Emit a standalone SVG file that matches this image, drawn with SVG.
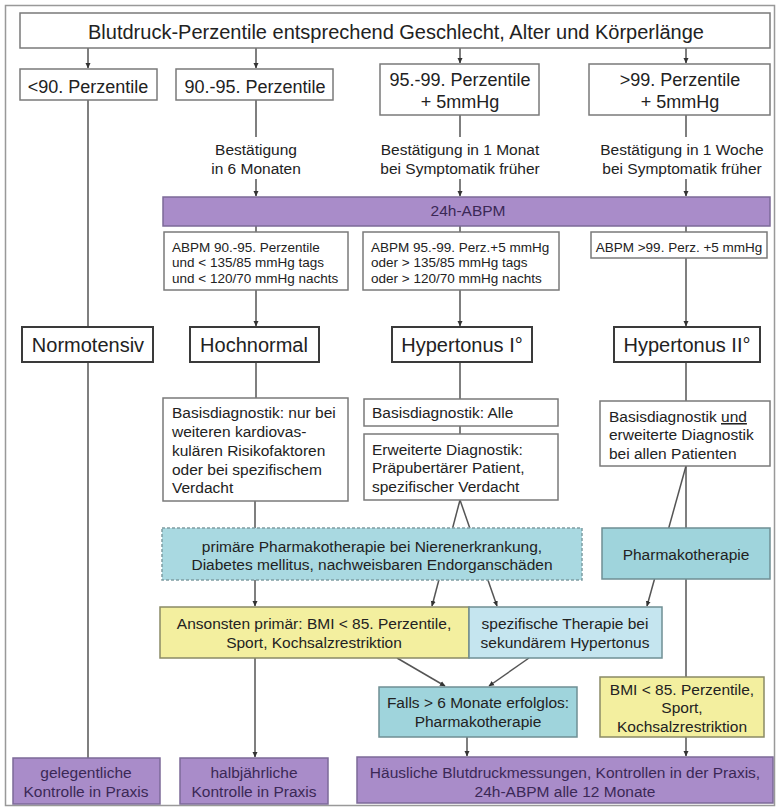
<svg xmlns="http://www.w3.org/2000/svg" width="777" height="811" viewBox="0 0 777 811">
<defs>
<marker id="ah" markerWidth="6" markerHeight="6" refX="5" refY="3" orient="auto" markerUnits="userSpaceOnUse">
<path d="M0,0.5 L5.5,3 L0,5.5 z" fill="#333"/>
</marker>
<style>
text{font-family:"Liberation Sans",Arial,sans-serif;fill:#222}
.b{fill:#fff;stroke:#7a7a7a;stroke-width:1.5}
.d{fill:#fff;stroke:#3a3a3a;stroke-width:2}
.pu{fill:#a98cc9;stroke:#7c6a98;stroke-width:1.5}
.te{fill:#9fd4dc;stroke:#6f8f94;stroke-width:1.5}
.dash{fill:#a9d9e1;stroke:#7f9da2;stroke-width:1.5;stroke-dasharray:3 2}
.ye{fill:#f3ef9f;stroke:#8a8a66;stroke-width:1.5}
.lb{fill:#c5e5ef;stroke:#6f8f94;stroke-width:1.5}
.c{text-anchor:middle}
.f20{font-size:20px}
.f18{font-size:18px}
.f15{font-size:15.5px}
.f13{font-size:13.5px}
.pt{fill:#3b2856}
#conn line,#conn path{stroke:#555;stroke-width:1.5;fill:none}
</style>
</defs>
<rect x="0" y="0" width="777" height="811" fill="#fff"/>
<rect x="5.5" y="5.5" width="769" height="800" fill="none" stroke="#999" stroke-width="1.5"/>

<g id="conn">
<line x1="88" y1="48" x2="88" y2="68" marker-end="url(#ah)"/>
<line x1="256" y1="48" x2="256" y2="68" marker-end="url(#ah)"/>
<line x1="460" y1="48" x2="460" y2="63" marker-end="url(#ah)"/>
<line x1="686" y1="48" x2="686" y2="63" marker-end="url(#ah)"/>
<line x1="88" y1="100" x2="88" y2="327"/>
<line x1="88" y1="362" x2="88" y2="758"/>
<line x1="256" y1="100" x2="256" y2="137"/>
<line x1="256" y1="179" x2="256" y2="196" marker-end="url(#ah)"/>
<line x1="460" y1="115" x2="460" y2="137"/>
<line x1="460" y1="179" x2="460" y2="196" marker-end="url(#ah)"/>
<line x1="686" y1="115" x2="686" y2="137"/>
<line x1="686" y1="179" x2="686" y2="196" marker-end="url(#ah)"/>
<line x1="256" y1="226" x2="256" y2="232"/>
<line x1="460" y1="226" x2="460" y2="232"/>
<line x1="686" y1="226" x2="686" y2="232"/>
<line x1="256" y1="290" x2="256" y2="326" marker-end="url(#ah)"/>
<line x1="460" y1="290" x2="460" y2="326" marker-end="url(#ah)"/>
<line x1="686" y1="258" x2="686" y2="326" marker-end="url(#ah)"/>
<line x1="256" y1="362" x2="256" y2="398"/>
<line x1="460" y1="362" x2="460" y2="399"/>
<line x1="460" y1="426" x2="460" y2="434"/>
<line x1="686" y1="362" x2="686" y2="401"/>
<line x1="255" y1="501" x2="255" y2="606" marker-end="url(#ah)"/>
<line x1="460" y1="500" x2="432" y2="606" marker-end="url(#ah)"/>
<line x1="460" y1="500" x2="497" y2="606" marker-end="url(#ah)"/>
<line x1="686" y1="466" x2="647" y2="606" marker-end="url(#ah)"/>
<line x1="686" y1="466" x2="686" y2="677"/>
<line x1="397" y1="658" x2="445" y2="686" marker-end="url(#ah)"/>
<line x1="529" y1="658" x2="489" y2="686" marker-end="url(#ah)"/>
<line x1="255" y1="658" x2="255" y2="757" marker-end="url(#ah)"/>
<line x1="467" y1="737" x2="467" y2="756" marker-end="url(#ah)"/>
<line x1="686" y1="737" x2="686" y2="756" marker-end="url(#ah)"/>
</g>

<g id="title">
<rect class="b" x="20" y="13" width="750" height="35"/>
<text class="c f20" x="396" y="39">Blutdruck-Perzentile entsprechend Geschlecht, Alter und Körperlänge</text>
</g>

<g id="p90">
<rect class="b" x="20" y="69" width="137" height="31"/>
<text class="c f18" x="88" y="93">&lt;90. Perzentile</text>
</g>
<g id="p9095">
<rect class="b" x="176" y="69" width="157" height="31"/>
<text class="c f18" x="255" y="93">90.-95. Perzentile</text>
</g>
<g id="p9599">
<rect class="b" x="380" y="64" width="159" height="51"/>
<text class="c f18" x="460" y="86">95.-99. Perzentile</text>
<text class="c f18" x="460" y="108">+ 5mmHg</text>
</g>
<g id="p99">
<rect class="b" x="589" y="64" width="181" height="51"/>
<text class="c f18" x="680" y="86">&gt;99. Perzentile</text>
<text class="c f18" x="680" y="108">+ 5mmHg</text>
</g>

<g id="conf1">
<text class="c f15" x="256" y="155">Bestätigung</text>
<text class="c f15" x="256" y="174">in 6 Monaten</text>
</g>
<g id="conf2">
<text class="c f15" x="460" y="155">Bestätigung in 1 Monat</text>
<text class="c f15" x="460" y="174">bei Symptomatik früher</text>
</g>
<g id="conf3">
<text class="c f15" x="682" y="155">Bestätigung in 1 Woche</text>
<text class="c f15" x="682" y="174">bei Symptomatik früher</text>
</g>

<g id="abpm">
<rect class="pu" x="163" y="197" width="607" height="29"/>
<text class="c f15 pt" x="468" y="216">24h-ABPM</text>
</g>

<g id="abpmA">
<rect class="b" x="164" y="232" width="184" height="58"/>
<text class="f13" x="172" y="252">ABPM 90.-95. Perzentile</text>
<text class="f13" x="172" y="267">und &lt; 135/85 mmHg tags</text>
<text class="f13" x="172" y="283">und &lt; 120/70 mmHg nachts</text>
</g>
<g id="abpmB">
<rect class="b" x="363" y="232" width="196" height="58"/>
<text class="f13" x="371" y="252">ABPM 95.-99. Perz.+5 mmHg</text>
<text class="f13" x="371" y="267">oder &gt; 135/85 mmHg tags</text>
<text class="f13" x="371" y="283">oder &gt; 120/70 mmHg nachts</text>
</g>
<g id="abpmC">
<rect class="b" x="591" y="232" width="176" height="26"/>
<text class="c f13" x="679" y="252">ABPM &gt;99. Perz. +5 mmHg</text>
</g>

<g id="normo">
<rect class="d" x="22" y="327" width="131" height="35"/>
<text class="c f20" x="88" y="352">Normotensiv</text>
</g>
<g id="hochnormal">
<rect class="d" x="190" y="327" width="129" height="35"/>
<text class="c f20" x="254" y="352">Hochnormal</text>
</g>
<g id="ht1">
<rect class="d" x="392" y="327" width="140" height="35"/>
<text class="c f20" x="462" y="352">Hypertonus I°</text>
</g>
<g id="ht2">
<rect class="d" x="614" y="327" width="146" height="35"/>
<text class="c f20" x="687" y="352">Hypertonus II°</text>
</g>

<g id="diagH">
<rect class="b" x="163" y="398" width="185" height="103"/>
<text class="f15" x="172" y="418">Basisdiagnostik: nur bei</text>
<text class="f15" x="172" y="437">weiteren kardiovas-</text>
<text class="f15" x="172" y="456">kulären Risikofaktoren</text>
<text class="f15" x="172" y="475">oder bei spezifischem</text>
<text class="f15" x="172" y="493">Verdacht</text>
</g>
<g id="diagI1">
<rect class="b" x="364" y="399" width="194" height="27"/>
<text class="f15" x="372" y="418">Basisdiagnostik: Alle</text>
</g>
<g id="diagI2">
<rect class="b" x="364" y="434" width="194" height="66"/>
<text class="f15" x="372" y="455">Erweiterte Diagnostik:</text>
<text class="f15" x="372" y="473">Präpubertärer Patient,</text>
<text class="f15" x="372" y="492">spezifischer Verdacht</text>
</g>
<g id="diagII">
<rect class="b" x="600" y="401" width="170" height="65"/>
<text class="f15" x="609" y="422">Basisdiagnostik <tspan text-decoration="underline">und</tspan></text>
<text class="f15" x="609" y="440">erweiterte Diagnostik</text>
<text class="f15" x="609" y="459">bei allen Patienten</text>
</g>

<g id="primPharma">
<rect class="dash" x="162" y="528" width="420" height="52"/>
<text class="c f15" x="372" y="552">primäre Pharmakotherapie bei Nierenerkrankung,</text>
<text class="c f15" x="372" y="570">Diabetes mellitus, nachweisbaren Endorganschäden</text>
</g>
<g id="pharma">
<rect class="te" x="602" y="528" width="168" height="51"/>
<text class="c f15" x="686" y="560">Pharmakotherapie</text>
</g>

<g id="ansonsten">
<rect class="ye" x="160" y="607" width="309" height="51"/>
<text class="c f15" x="314" y="629">Ansonsten primär: BMI &lt; 85. Perzentile,</text>
<text class="c f15" x="314" y="648">Sport, Kochsalzrestriktion</text>
</g>
<g id="spezifisch">
<rect class="lb" x="469" y="607" width="193" height="51"/>
<text class="c f15" x="565" y="629">spezifische Therapie bei</text>
<text class="c f15" x="565" y="648">sekundärem Hypertonus</text>
</g>

<g id="falls">
<rect class="te" x="379" y="687" width="198" height="50"/>
<text class="c f15" x="478" y="708">Falls &gt; 6 Monate erfolglos:</text>
<text class="c f15" x="478" y="727">Pharmakotherapie</text>
</g>
<g id="bmi">
<rect class="ye" x="600" y="677" width="164" height="60"/>
<text class="c f15" x="682" y="695">BMI &lt; 85. Perzentile,</text>
<text class="c f15" x="682" y="713">Sport,</text>
<text class="c f15" x="682" y="732">Kochsalzrestriktion</text>
</g>

<g id="gelegentlich">
<rect class="pu" x="13" y="758" width="147" height="46"/>
<text class="c f15 pt" x="86" y="778">gelegentliche</text>
<text class="c f15 pt" x="86" y="797">Kontrolle in Praxis</text>
</g>
<g id="halbjaehrlich">
<rect class="pu" x="180" y="758" width="148" height="46"/>
<text class="c f15 pt" x="254" y="778">halbjährliche</text>
<text class="c f15 pt" x="254" y="797">Kontrolle in Praxis</text>
</g>
<g id="haeuslich">
<rect class="pu" x="357" y="757" width="416" height="46"/>
<text class="c f15 pt" x="565" y="778">Häusliche Blutdruckmessungen, Kontrollen in der Praxis,</text>
<text class="c f15 pt" x="565" y="797">24h-ABPM alle 12 Monate</text>
</g>
</svg>
